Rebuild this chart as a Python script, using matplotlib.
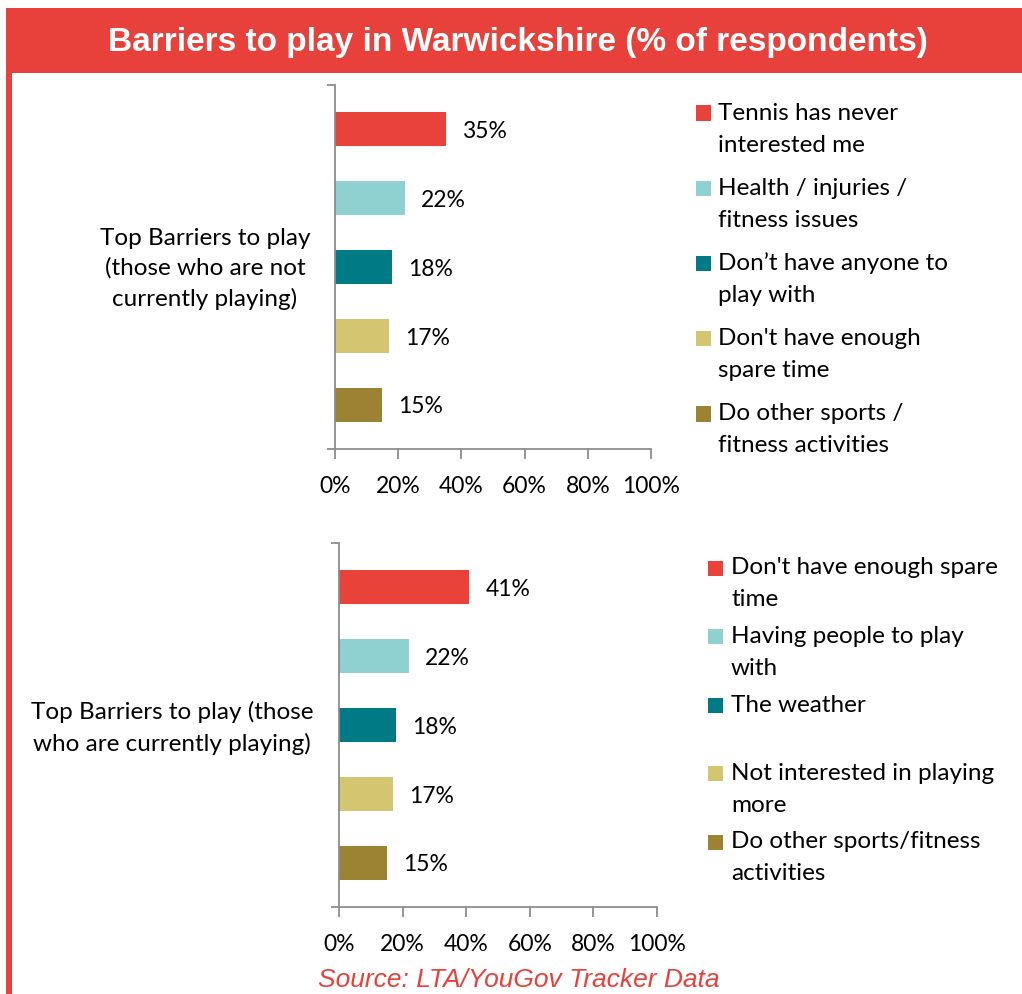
import matplotlib
matplotlib.use("Agg")
import matplotlib.pyplot as plt
from matplotlib.patches import Rectangle

# data
not_playing_labels = ["Tennis has never\ninterested me",
                      "Health / injuries /\nfitness issues",
                      "Don\u2019t have anyone to\nplay with",
                      "Don't have enough\nspare time",
                      "Do other sports /\nfitness activities"]
not_playing_values = [35, 22, 18, 17, 15]

playing_labels = ["Don't have enough spare\ntime",
                  "Having people to play\nwith",
                  "The weather",
                  "Not interested in playing\nmore",
                  "Do other sports/fitness\nactivities"]
playing_values = [41, 22, 18, 17, 15]

bar_colors = ["#E8423A", "#8FD1D1", "#007B86", "#D4C570", "#9C8333"]
x_ticks = [0, 20, 40, 60, 80, 100]

RED = "#E8403A"
AXIS_GREY = "#8C8C8C"
BODY_FONT = "Lato"
NUM_FS = 16.5
TXT_FS = 17.5

W, H = 1022, 994
fig = plt.figure(figsize=(W / 100, H / 100), dpi=100)


def fx(x):
    return x / W


def fy(y):
    return 1 - y / H


# banner + red side strip
fig.add_artist(Rectangle((fx(6), fy(73)), fx(1022) - fx(6), fy(8) - fy(73),
                         transform=fig.transFigure, color=RED, lw=0))
fig.add_artist(Rectangle((fx(6), fy(994)), fx(12) - fx(6), fy(73) - fy(994),
                         transform=fig.transFigure, color=RED, lw=0))
fig.text(fx(518), fy(43), "Barriers to play in Warwickshire (% of respondents)",
         color="white", fontsize=24, fontweight="bold", family="Liberation Sans",
         ha="center", va="center")


def bar_panel(left, top, right, bottom, values):
    ax = fig.add_axes([fx(left), fy(bottom), fx(right) - fx(left), fy(top) - fy(bottom)])
    pos = list(range(len(values)))
    ax.barh(pos, values, height=0.5, color=bar_colors)
    for p, v in zip(pos, values):
        ax.annotate(f"{v}%", xy=(v, p), xytext=(11.5, -1.5), textcoords="offset points",
                    va="center", ha="left", fontsize=NUM_FS, family=BODY_FONT, color="black")
    ax.set_xlim(0, 100)
    ax.set_ylim(4.64, -0.64)
    ax.set_xticks(x_ticks)
    ax.set_xticklabels([f"{t}%" for t in x_ticks], fontsize=NUM_FS, family=BODY_FONT)
    ax.set_yticks([-0.64, 4.64])
    ax.set_yticklabels([])
    for s in ("top", "right"):
        ax.spines[s].set_visible(False)
    for s in ("left", "bottom"):
        ax.spines[s].set_color(AXIS_GREY)
        ax.spines[s].set_linewidth(1.3)
    ax.tick_params(axis="x", direction="out", length=7.5, width=1.3, color=AXIS_GREY, pad=12)
    ax.tick_params(axis="y", direction="out", length=6, width=1.3, color=AXIS_GREY)
    ax.patch.set_alpha(0)
    return ax


def legend_block(x_sq, x_txt, y_first, step, labels):
    for i, (lab, col) in enumerate(zip(labels, bar_colors)):
        y0 = y_first + i * step
        fig.add_artist(Rectangle((fx(x_sq), fy(y0 + 7.5)), fx(15), fy(0) - fy(15),
                                 transform=fig.transFigure, color=col, lw=0))
        for k, line in enumerate(lab.split("\n")):
            fig.text(fx(x_txt), fy(y0 + k * 32), line, fontsize=TXT_FS, family=BODY_FONT,
                     ha="left", va="center", color="black")


# panel 1: not currently playing
bar_panel(335, 85, 651, 449, not_playing_values)
fig.text(fx(205), fy(269), "Top Barriers to play\n(those who are not\ncurrently playing)",
         fontsize=TXT_FS, family=BODY_FONT, ha="center", va="center",
         multialignment="center", linespacing=1.5)
legend_block(696, 718, 113, 75.25, not_playing_labels)

# panel 2: currently playing
bar_panel(339, 543, 657, 907, playing_values)
fig.text(fx(172), fy(728), "Top Barriers to play (those\nwho are currently playing)",
         fontsize=TXT_FS, family=BODY_FONT, ha="center", va="center",
         multialignment="center", linespacing=1.5)
legend_block(708, 731, 568, 68.5, playing_labels)

fig.text(fx(519), fy(980), "Source: LTA/YouGov Tracker Data", color=RED,
         fontsize=19, style="italic", family="Liberation Sans", ha="center", va="center")

fig.savefig("out.png", dpi=100)
